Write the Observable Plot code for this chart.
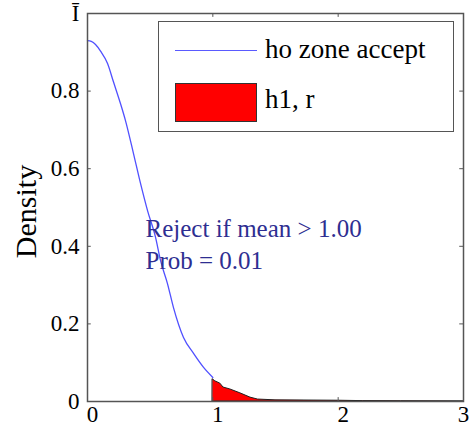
<!DOCTYPE html>
<html>
<head>
<meta charset="utf-8">
<script src="https://cdn.jsdelivr.net/npm/d3@7"></script>
<script src="https://cdn.jsdelivr.net/npm/@observablehq/plot@0.6"></script>
<style>
  html, body { margin: 0; padding: 0; background: white; }
  #wrap { position: relative; width: 470px; height: 432px; font-family: "Liberation Serif", serif; }
  #legend { position: absolute; left: 158px; top: 21px; width: 296px; height: 111px; border: 1.5px solid #555; background: white; box-sizing: border-box; }
  .lg { position: absolute; font-family: "Liberation Serif", serif; font-size: 27px; color: black; white-space: nowrap; line-height: 1; }
  .sw-line { position: absolute; height: 0; border-top: 1.5px solid #5a5aff; }
  .sw-rect { position: absolute; background: red; border: 1px solid #333; box-sizing: border-box; }
  svg text { font-family: "Liberation Serif", serif; }
</style>
</head>
<body>
<div id="wrap"></div>
<script>
// Null-hypothesis density curve (acceptance zone)
const accX = [0, 0.03, 0.064, 0.104, 0.16, 0.207, 0.263, 0.303, 0.367, 0.423, 0.479, 0.543, 0.583, 0.638, 0.686, 0.766, 0.846, 0.926, 1.0];
const accY = [0.93, 0.928, 0.92, 0.903, 0.871, 0.824, 0.768, 0.724, 0.639, 0.562, 0.492, 0.423, 0.363, 0.304, 0.242, 0.165, 0.124, 0.088, 0.062];
// Rejection region tail
const rejX = [1.0, 1.02, 1.06, 1.085, 1.14, 1.22, 1.30, 1.36, 1.5, 2.0, 2.2, 2.5, 3.0];
const rejY = [0.057, 0.052, 0.046, 0.036, 0.031, 0.021, 0.010, 0.005, 0.003, 0.002, 0.001, 0.0005, 0];
// Ticks
const xTicks = [0, 1, 2, 3];
const xTickLabels = ["0", "1", "2", "3"];
const yTicks = [0, 0.2, 0.4, 0.6, 0.8, 1];
const yTickLabels = ["0", "0.2", "0.4", "0.6", "0.8", "Ī"];
// Text
const yLabel = "Density";
const annotation = ["Reject if mean > 1.00", "Prob = 0.01"];
const legendLabels = ["ho zone accept", "h1, r"];

const acc = accX.map((x, i) => ({x, y: accY[i]}));
const rej = rejX.map((x, i) => ({x, y: rejY[i]}));
const serif = "'Liberation Serif', serif";
const xfmt = (d) => xTickLabels[xTicks.indexOf(d)];

const chart = Plot.plot({
  width: 470,
  height: 432,
  marginLeft: 87,
  marginRight: 7,
  marginTop: 13,
  marginBottom: 31,
  style: {fontFamily: serif, fontSize: "23px", color: "black", background: "white"},
  x: {domain: [0, 3]},
  y: {domain: [0, 1]},
  marks: [
    Plot.areaY(rej, {x: "x", y: "y", fill: "red", stroke: "#222", strokeWidth: 1}),
    Plot.lineY(acc, {x: "x", y: "y", stroke: "#5050ff", strokeWidth: 1.3, curve: "monotone-x"}),
    Plot.frame({stroke: "#555", strokeWidth: 1.5}),
    Plot.ruleX(xTicks, {x: d => d, y1: 0, y2: 0.01, stroke: "#555"}),
    Plot.ruleX(xTicks, {x: d => d, y1: 1, y2: 0.99, stroke: "#555"}),
    Plot.ruleY(yTicks, {y: d => d, x1: 0, x2: 0.03, stroke: "#555"}),
    Plot.ruleY(yTicks, {y: d => d, x1: 3, x2: 2.97, stroke: "#555"}),
    Plot.axisX({ticks: xTicks.slice(0, 3), tickSize: 0, tickPadding: 4, dx: 5, fontFamily: serif, fontSize: 23, tickFormat: xfmt, label: null}),
    Plot.axisX({ticks: xTicks.slice(3), tickSize: 0, tickPadding: 4, dx: 0, fontFamily: serif, fontSize: 23, tickFormat: xfmt, label: null}),
    Plot.axisY({ticks: yTicks, tickSize: 0, tickPadding: 8, fontFamily: serif, fontSize: 23, tickFormat: (d) => yTickLabels[yTicks.indexOf(d)], label: null}),
    Plot.text([yLabel], {frameAnchor: "left", textAnchor: "middle", rotate: -90, dx: -61, dy: 4, fontSize: 30, fontFamily: serif, text: d => d}),
    Plot.text([annotation.join("\n")], {x: 0.463, y: 0.48, text: d => d, textAnchor: "start", lineAnchor: "top", fontSize: 25, fontFamily: serif, fill: "#2e2e91", lineHeight: 1.25})
  ]
});

const wrap = document.getElementById("wrap");
wrap.appendChild(chart);

const legend = document.createElement("div");
legend.id = "legend";
legend.innerHTML = `
  <div class="sw-line" style="left:16px; top:28px; width:82px;"></div>
  <span class="lg" style="left:106px; top:14px;">${legendLabels[0]}</span>
  <div class="sw-rect" style="left:16px; top:61px; width:82px; height:39px;"></div>
  <span class="lg" style="left:106px; top:64px;">${legendLabels[1]}</span>
`;
wrap.appendChild(legend);
</script>
</body>
</html>
